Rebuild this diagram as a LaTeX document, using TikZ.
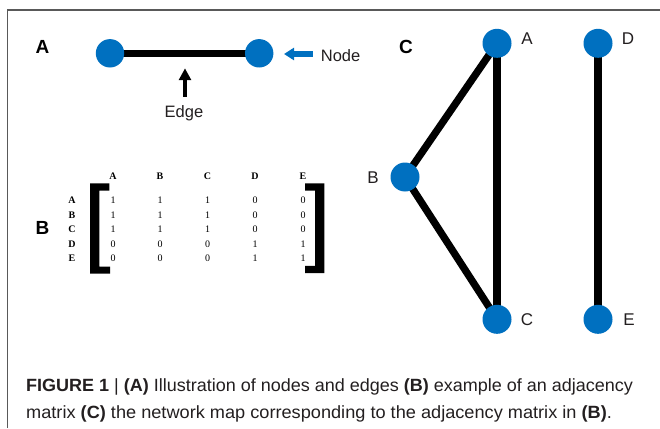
\documentclass[tikz,border=0pt]{standalone}
\usepackage{graphicx}
\usepackage{fontspec}
\setmainfont{Liberation Sans}
\newfontfamily\matfont{Liberation Serif}
\usetikzlibrary{arrows.meta}
\definecolor{nodeblue}{RGB}{0,112,192}
\definecolor{ink}{RGB}{35,31,32}
\pgfdeclarelayer{paper}
\pgfdeclarelayer{edges}
\pgfsetlayers{paper,edges,main}

\begin{document}
\begin{tikzpicture}[x=1pt,y=-1pt,
  vertex/.style={circle,fill=nodeblue,minimum size=29pt,inner sep=0pt},
  link/.style={line width=7.3pt,black},
  panel/.style={font=\fontsize{19}{19}\selectfont\bfseries,text=black,inner sep=0pt},
  vlabel/.style={font=\fontsize{17}{17}\selectfont,text=ink,inner sep=0pt},
  note/.style={font=\fontsize{16.5}{16.5}\selectfont,text=ink,inner sep=0pt},
  mhead/.style={font=\matfont\bfseries\fontsize{10}{10}\selectfont,inner sep=0pt},
  mcell/.style={font=\matfont\fontsize{10}{10}\selectfont,inner sep=0pt},
  captionline/.style={font=\fontsize{17.7}{17.7}\selectfont,text=ink,inner sep=0pt,anchor=base west},
]
\useasboundingbox (0,0) rectangle (660,428);
\begin{pgfonlayer}{paper}
  \fill[white] (0,0) rectangle (660,428);
\end{pgfonlayer}
% frame
\draw[black!65,line width=1.5pt] (7.5,428) -- (7.5,10) -- (660,10);

% ---- panel A: one edge between two nodes
\node[panel] (labA) at (42.5,46.7) {A};
\node[vertex,minimum size=28.4pt] (p1) at (110,53.3) {};
\node[vertex,minimum size=28.4pt] (p2) at (259.2,53.3) {};
\begin{pgfonlayer}{edges}
  \draw[link,line width=6.7pt] (p1.center) -- (p2.center);
\end{pgfonlayer}
\node[note,anchor=base west] (nodeword) at (320.7,61.3) {Node};
\coordinate (ntail) at (312.7,54);
\coordinate (ntip) at (284,54);
\draw[nodeblue,line width=5pt,-{Triangle[length=10pt,width=12pt]}] (ntail) -- (ntip);
\node[note,anchor=base] (edgeword) at (184,117.3) {Edge};
\coordinate (etail) at (185,96.7);
\coordinate (etip) at (185,68.3);
\draw[black,line width=4.7pt,-{Triangle[length=11.7pt,width=11.7pt]}] (etail) -- (etip);

% ---- panel B: adjacency matrix
\node[panel] (labB) at (42.5,228) {B};
\foreach \cn/\x in {A/113,B/160,C/207.5,D/255,E/303}
  \node[mhead] (col\cn) at (\x,176) {\cn};
\foreach \rn/\y/\va/\vb/\vc/\vd/\ve in {A/200.5/1/1/1/0/0,B/215/1/1/1/0/0,C/229.5/1/1/1/0/0,D/244/0/0/0/1/1,E/258.5/0/0/0/1/1} {
  \node[mhead] (row\rn) at (72,\y) {\rn};
  \node[mcell] (m\rn-A) at (113,\y) {\va};
  \node[mcell] (m\rn-B) at (160,\y) {\vb};
  \node[mcell] (m\rn-C) at (207.5,\y) {\vc};
  \node[mcell] (m\rn-D) at (255,\y) {\vd};
  \node[mcell] (m\rn-E) at (303,\y) {\ve};
}
% brackets
\fill[black] (90,183.3) -- (109.3,183.3) -- (109.3,190.5) -- (99.3,190.5) -- (99.3,266.5)
  -- (110,266.5) -- (110,273.7) -- (90,273.7) -- cycle;
\fill[black] (305,183.3) -- (324.3,183.3) -- (324.3,273) -- (305,273) -- (305,265.8)
  -- (315,265.8) -- (315,190.5) -- (305,190.5) -- cycle;

% ---- panel C: network map
\node[panel] (labC) at (406,47) {C};
\node[vertex] (vA) at (497,43.3) {};
\node[vertex] (vD) at (598,43.3) {};
\node[vertex] (vB) at (405,177) {};
\node[vertex] (vC) at (497,319.3) {};
\node[vertex] (vE) at (598,319.3) {};
\begin{pgfonlayer}{edges}
  \draw[link] (vA.center) -- (vB.center);
  \draw[link] (vB.center) -- (vC.center);
  \draw[link] (vA.center) -- (vC.center);
  \draw[link] (vD.center) -- (vE.center);
\end{pgfonlayer}
\node[vlabel] (tA) at (527,38.3) {A};
\node[vlabel] (tD) at (628,38.3) {D};
\node[vlabel] (tB) at (373,177.5) {B};
\node[vlabel] (tC) at (527,319.3) {C};
\node[vlabel] (tE) at (629,319.3) {E};

% ---- caption
\node[captionline] (cap1) at (26,391) {\resizebox{606.7pt}{\height}{\textbf{FIGURE 1} | \textbf{(A)} Illustration of nodes and edges \textbf{(B)} example of an adjacency}};
\node[captionline] (cap2) at (26,418.3) {\resizebox{585.7pt}{\height}{matrix \textbf{(C)} the network map corresponding to the adjacency matrix in \textbf{(B)}.}};
\end{tikzpicture}
\end{document}
